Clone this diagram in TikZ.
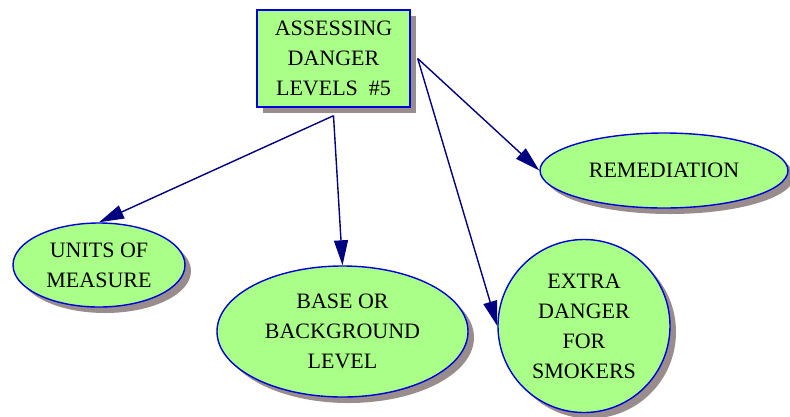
\documentclass[tikz,border=0pt]{standalone}
\usepackage{fontspec}
\setmainfont{Liberation Serif}
\usetikzlibrary{shapes.geometric,shadows,arrows.meta}
\definecolor{nodefill}{RGB}{170,255,136}
\definecolor{nodeborder}{RGB}{0,0,220}
\definecolor{arrowcol}{RGB}{0,0,128}
\definecolor{shadowcol}{RGB}{152,140,140}
\tikzset{
  base/.style={draw=nodeborder, line width=1.4pt, fill=nodefill, align=center, inner sep=0pt,
    font=\fontsize{22}{30}\selectfont,
    drop shadow={shadow xshift=6pt, shadow yshift=-6pt, fill=shadowcol, opacity=1}},
  boxnode/.style={base, rectangle},
  ellnode/.style={base, ellipse},
  arr/.style={draw=arrowcol, line width=1.4pt, -{Triangle[length=25pt,width=14pt]}, arrowcol}
}
\begin{document}
\begin{tikzpicture}[x=1pt,y=-1pt]
\useasboundingbox (0,0) rectangle (790,416);
\node[boxnode, minimum width=153pt, minimum height=97pt] (top) at (333.5,58.5) {ASSESSING\\DANGER\\LEVELS\ \ \#5};
\node[ellnode, minimum width=172pt, minimum height=84pt] (units) at (99,265) {UNITS OF\\MEASURE};
\node[ellnode, minimum width=251pt, minimum height=131pt] (bg) at (342.5,331.5) {BASE OR\\BACKGROUND\\LEVEL};
\node[ellnode, minimum width=172pt, minimum height=173pt] (extra) at (584,326) {EXTRA\\DANGER\\FOR\\SMOKERS};
\node[ellnode, minimum width=248pt, minimum height=75pt] (rem) at (664,170.5) {REMEDIATION};
\draw[arr] ([yshift=-8pt]top.south) -- (units.north);
\draw[arr] ([yshift=-8pt]top.south) -- (bg.north);
\draw[arr] ([xshift=7pt]top.east) -- (rem.west);
\draw[arr] ([xshift=7pt]top.east) -- (extra.west);
\end{tikzpicture}
\end{document}
